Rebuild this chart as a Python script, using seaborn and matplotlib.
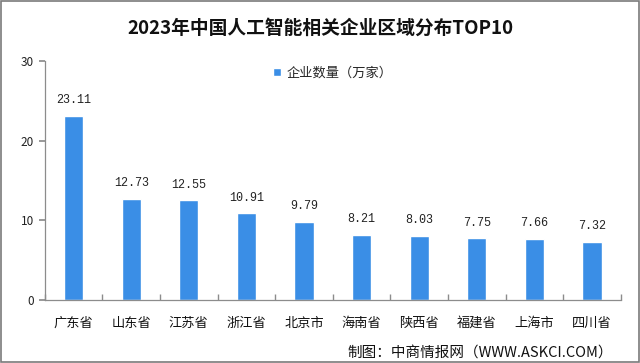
import numpy as np
import pandas as pd
import matplotlib.pyplot as plt
import seaborn as sns
from matplotlib.patches import Rectangle

# 数据
regions = ['广东省', '山东省', '江苏省', '浙江省', '北京市', '海南省', '陕西省', '福建省', '上海市', '四川省']
counts = [23.11, 12.73, 12.55, 10.91, 9.79, 8.21, 8.03, 7.75, 7.66, 7.32]
series_name = '企业数量（万家）'
title = '2023年中国人工智能相关企业区域分布TOP10'
source = '制图：中商情报网（WWW.ASKCI.COM）'

sns.set_theme(style="white")
plt.rcParams['font.family'] = ['Noto Sans CJK SC', 'DejaVu Sans']
plt.rcParams['axes.unicode_minus'] = False

df = pd.DataFrame({'region': regions, 'count': counts})
bar_color = '#3a8ee6'
gray = '#8c8c8c'

fig = plt.figure(figsize=(6.4, 3.63), dpi=100)
ax = fig.add_axes([0.070, 0.1736, 0.900, 0.658])

sns.barplot(data=df, x='region', y='count', color=bar_color, width=0.33,
            saturation=1, ax=ax, label=series_name)

ax.set_xlim(-0.5, len(regions) - 0.5)
ax.set_ylim(0, 30)
ax.set_yticks([0, 10, 20, 30])
ax.set_xlabel('')
ax.set_ylabel('')

for s in ['top', 'right']:
    ax.spines[s].set_visible(False)
for s in ['left', 'bottom']:
    ax.spines[s].set_color(gray)
    ax.spines[s].set_linewidth(0.9)

ax.tick_params(axis='y', length=4, color=gray, direction='out', labelsize=8.5,
               labelcolor='#222222', left=True, pad=4)
ax.tick_params(axis='x', length=0, labelsize=9.5, labelcolor='#111111', pad=12)
ax.set_xticks(np.arange(-0.5, len(regions)), minor=True)
ax.tick_params(axis='x', which='minor', length=4, color=gray, direction='in', bottom=True)

for i, v in enumerate(counts):
    ax.text(i, v + 1.2, f'{v:.2f}', ha='center', va='bottom', fontsize=8.5,
            family='Liberation Mono', color='#222222')

fig.text(0.5, 0.923, title, ha='center', va='center', fontsize=13.5,
         fontweight='bold', color='#111111')

leg = ax.legend(loc='center', bbox_to_anchor=(0.5, 0.95),
                frameon=False, fontsize=9.5, handlelength=0.6, handleheight=0.6,
                handletextpad=0.4)

fig.text(0.957, 0.028, source, ha='right', va='center', fontsize=10.5, color='#111111')

# 外框
fig.patches.append(Rectangle((0.002, 0.003), 0.996, 0.994, transform=fig.transFigure,
                             fill=False, edgecolor='#7a7a7a', linewidth=1.2))

fig.savefig('out.png', dpi=100)
